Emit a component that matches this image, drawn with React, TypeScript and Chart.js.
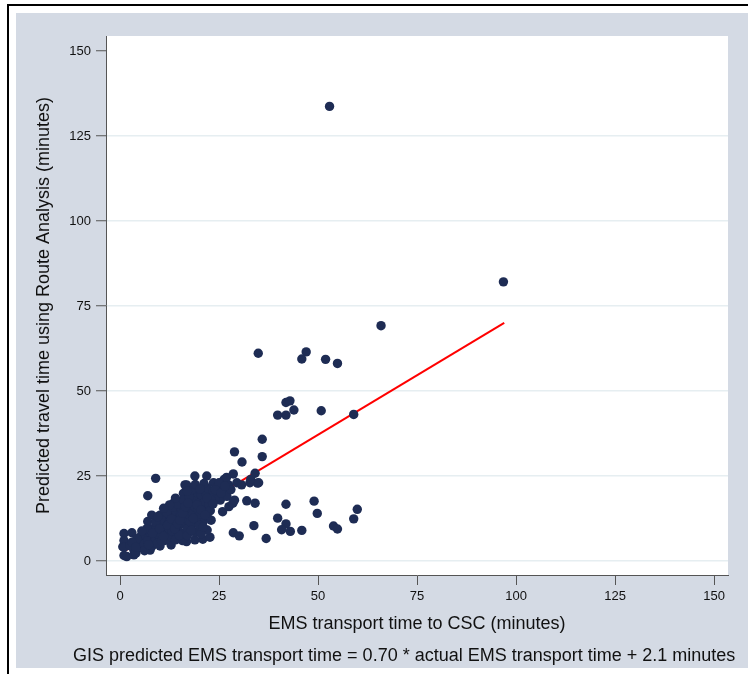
import React, { useEffect, useRef } from "react";
import { Chart, registerables } from "chart.js";

Chart.register(...registerables);

// Dense cluster of short transports (actual minutes, predicted minutes)
const edgeX = [0.7, 1.0, 3.0, 1.0, 1.0, 1.0, 1.7, 3.5, 3.5, 4.0, 5.1, 5.9, 5.9, 8.0, 7.6, 2.5, 8.0, 8.4, 8.0, 10.1, 12.6, 13.5, 15.2, 16.0, 16.4, 16.8, 12.9, 10.1, 7.0, 7.0, 9.0, 15.8, 18.9, 20.9, 22.7, 22.0, 21.0, 22.0, 25.9, 25.3, 24.4, 24.0, 23.6, 18.9, 21.9, 16.8, 26.3, 27.4, 28.6, 26.9];
const edgeY = [4.2, 8.1, 8.3, 6.0, 4.0, 1.6, 1.3, 1.8, 3.2, 2.3, 4.4, 6.2, 3.7, 4.2, 3.2, 4.5, 7.0, 9.6, 13.5, 13.5, 15.0, 17.0, 17.4, 19.9, 22.4, 5.7, 4.7, 4.4, 11.6, 19.2, 24.3, 6.0, 6.2, 6.4, 7.0, 9.1, 11.6, 13.2, 14.5, 17.9, 19.9, 18.4, 23.0, 25.0, 25.0, 22.4, 24.0, 22.4, 25.6, 24.6];

const coreX = [
  4.5, 5.0, 6.0, 6.5, 7.0, 7.5, 6.8, 5.5, 4.2, 8.5, 9.0, 9.5,
  9.2, 9.8, 10.5, 10.8, 11.0, 11.5, 11.2, 12.0, 12.3, 12.5, 12.8, 10.3, 11.8, 9.5, 12.0,
  13.0, 13.2, 13.5, 13.8, 14.0, 14.2, 14.5, 14.8, 15.0, 15.3, 15.5, 15.8, 16.0, 16.2, 16.5, 16.7, 14.0, 13.3, 14.6, 15.0, 16.0,
  17.0, 17.2, 17.5, 17.8, 18.0, 18.3, 18.5, 18.8, 19.0, 19.2, 19.5, 19.8, 20.0, 20.3, 17.5, 18.2, 20.5, 17.0, 19.0, 20.0,
  21.0, 21.5, 21.8, 22.0, 22.5, 23.0, 23.5, 22.8, 21.2, 24.5, 23.0, 20.5, 25.0,
  26.0, 27.0, 28.0, 29.5, 27.5,
];
const coreY = [
  5.5, 7.0, 5.0, 7.5, 6.0, 8.5, 9.5, 8.8, 6.5, 5.5, 6.5, 8.0,
  9.8, 11.0, 7.5, 9.2, 10.8, 12.3, 6.0, 8.0, 9.6, 11.5, 13.2, 12.4, 14.2, 5.2, 6.5,
  7.0, 8.8, 10.2, 11.8, 13.0, 14.5, 9.0, 12.2, 10.5, 13.8, 15.2, 16.5, 8.2, 11.0, 12.8, 14.8, 6.2, 15.8, 16.8, 7.5, 18.0,
  9.5, 12.0, 13.5, 15.5, 17.2, 10.8, 14.0, 16.0, 18.5, 12.5, 20.0, 15.0, 17.0, 13.8, 19.0, 21.0, 19.5, 7.5, 8.5, 10.5,
  15.5, 17.5, 19.8, 21.5, 16.5, 18.0, 20.5, 14.8, 22.8, 21.8, 12.0, 8.0, 23.0,
  20.5, 19.0, 21.0, 23.0, 16.0,
];

// Additional overlapping points inside the dense blob
const packX = [3.0, 4.0, 6.2, 7.2, 8.2, 9.0, 10.0, 10.5, 11.0, 12.0, 13.0, 13.8, 14.5, 15.2, 15.8, 16.5, 17.2, 17.8, 18.5, 19.5, 20.5, 21.5, 22.0, 23.5, 24.0, 19.0, 20.2, 17.0, 14.0, 12.5, 11.0, 9.5, 18.0, 21.0, 25.5, 26.5];
const packY = [5.5, 4.0, 3.0, 4.8, 8.2, 11.5, 9.5, 5.8, 7.2, 10.5, 12.3, 9.5, 11.0, 12.0, 14.0, 16.0, 17.0, 11.5, 12.5, 16.5, 15.0, 13.5, 18.5, 16.8, 21.0, 22.5, 21.2, 20.5, 18.5, 16.5, 15.5, 13.0, 9.0, 10.0, 20.0, 22.0];

// Mid-range transports
const spreadX = [30.7, 32.8, 34.7, 34.1, 30.8, 28.9, 35.9, 35.9, 28.5, 28.9, 32.0, 34.1, 33.8, 28.6, 30.1, 36.9, 33.0, 35.0, 41.9, 49.0, 49.8, 59.9, 59.0, 39.8, 41.9, 40.8, 43.0, 45.9, 53.9, 54.9];
const spreadY = [22.4, 23.0, 22.9, 25.8, 29.1, 32.1, 30.7, 35.8, 17.0, 17.9, 17.7, 17.0, 10.4, 8.3, 7.4, 6.6, 24.0, 23.0, 16.7, 17.6, 14.0, 15.2, 12.4, 12.6, 10.9, 9.2, 8.7, 9.0, 10.3, 9.4];

// Long predicted times
const highX = [34.9, 47.0, 45.9, 51.9, 54.9, 41.9, 42.9, 43.9, 39.8, 41.9, 50.8, 59.0, 65.9, 96.8, 52.9];
const highY = [61.1, 61.5, 59.4, 59.3, 58.1, 46.6, 47.1, 44.4, 42.9, 42.9, 44.2, 43.1, 69.2, 82.1, 133.7];

// Fitted line end points
const fitX = [1, 97];
const fitY = [2.8, 70.0];

const xTicks = [0, 25, 50, 75, 100, 125, 150];
const yTicks = [0, 25, 50, 75, 100, 125, 150];

const xTitle = "EMS transport time to CSC (minutes)";
const yTitle = "Predicted travel time using Route Analysis (minutes)";
const caption = "GIS predicted EMS transport time = 0.70 * actual EMS transport time + 2.1 minutes";

const FONT = '"Liberation Sans", Arial, Helvetica, sans-serif';

export default function App() {
  const ref = useRef<HTMLCanvasElement>(null);

  useEffect(() => {
    document.body.style.margin = "0";
    const canvas = ref.current;
    if (!canvas) return;
    const toPts = (xs: number[], ys: number[]) => xs.map((x, i) => ({ x, y: ys[i] }));
    const points = [
      ...toPts(edgeX, edgeY),
      ...toPts(coreX, coreY),
      ...toPts(packX, packY),
      ...toPts(spreadX, spreadY),
      ...toPts(highX, highY),
    ];

    const bgPlugin = {
      id: "stataBg",
      beforeDraw(chart: any) {
        const { ctx, chartArea: a, width, height } = chart;
        ctx.save();
        ctx.fillStyle = "#ffffff";
        ctx.fillRect(0, 0, width, height);
        ctx.fillStyle = "#000000";
        ctx.fillRect(7, 4, width - 7, 2);
        ctx.fillRect(7, 4, 2, height - 4);
        ctx.fillStyle = "#d4dae4";
        ctx.fillRect(16, 13, width - 16, 655);
        ctx.fillStyle = "#ffffff";
        ctx.fillRect(a.left, a.top, a.right - a.left, a.bottom - a.top);
        ctx.restore();
      },
      afterDraw(chart: any) {
        const { ctx } = chart;
        ctx.save();
        ctx.fillStyle = "#111111";
        ctx.font = `18px ${FONT}`;
        ctx.textAlign = "left";
        ctx.textBaseline = "alphabetic";
        ctx.fillText(caption, 73, 661);
        ctx.restore();
      },
    };

    const chart = new Chart(canvas, {
      type: "scatter",
      data: {
        datasets: [
          {
            data: points,
            backgroundColor: "#1e2c54",
            borderColor: "#1e2c54",
            borderWidth: 0,
            pointRadius: 4.7,
            pointHoverRadius: 4.7,
            order: 0,
          },
          {
            data: toPts(fitX, fitY),
            showLine: true,
            borderColor: "#ff0000",
            borderWidth: 2,
            pointRadius: 0,
            fill: false,
            order: 1,
          } as any,
        ],
      },
      options: {
        responsive: false,
        animation: false,
        devicePixelRatio: 1,
        layout: { padding: { left: 0, right: 20, top: 36, bottom: 0 } },
        plugins: { legend: { display: false }, tooltip: { enabled: false } },
        scales: {
          x: {
            type: "linear",
            min: -3.54,
            max: 153.5,
            afterBuildTicks: (s: any) => {
              s.ticks = xTicks.map((v) => ({ value: v }));
            },
            afterFit: (s: any) => {
              s.height = 99;
            },
            grid: { drawOnChartArea: false, drawTicks: true, tickLength: 10, tickColor: "#555555", tickWidth: 1 },
            border: { display: true, color: "#555555", width: 1 },
            ticks: { font: { family: FONT, size: 13 }, color: "#111111", padding: 4, maxRotation: 0, autoSkip: false },
            title: { display: true, text: xTitle, font: { family: FONT, size: 18 }, color: "#111111", padding: { top: 0, bottom: 39 } },
          },
          y: {
            type: "linear",
            min: -4.12,
            max: 154.4,
            afterBuildTicks: (s: any) => {
              s.ticks = yTicks.map((v) => ({ value: v }));
            },
            afterFit: (s: any) => {
              s.width = 106;
            },
            grid: {
              drawOnChartArea: true,
              drawTicks: true,
              tickLength: 10,
              tickColor: "#555555",
              tickWidth: 1,
              lineWidth: 1.5,
              color: (c: any) => (c.tick && c.tick.value === 150 ? "rgba(0,0,0,0)" : "#e6eef1"),
            },
            border: { display: true, color: "#555555", width: 1 },
            ticks: { font: { family: FONT, size: 13 }, color: "#111111", padding: 5, autoSkip: false },
            title: { display: true, text: yTitle, font: { family: FONT, size: 18 }, color: "#111111", padding: { top: 33, bottom: 0 } },
          },
        },
      },
      plugins: [bgPlugin],
    });

    return () => chart.destroy();
  }, []);

  return (
    <div style={{ width: 748, height: 674 }}>
      <canvas ref={ref} width={748} height={674} style={{ display: "block" }} />
    </div>
  );
}
